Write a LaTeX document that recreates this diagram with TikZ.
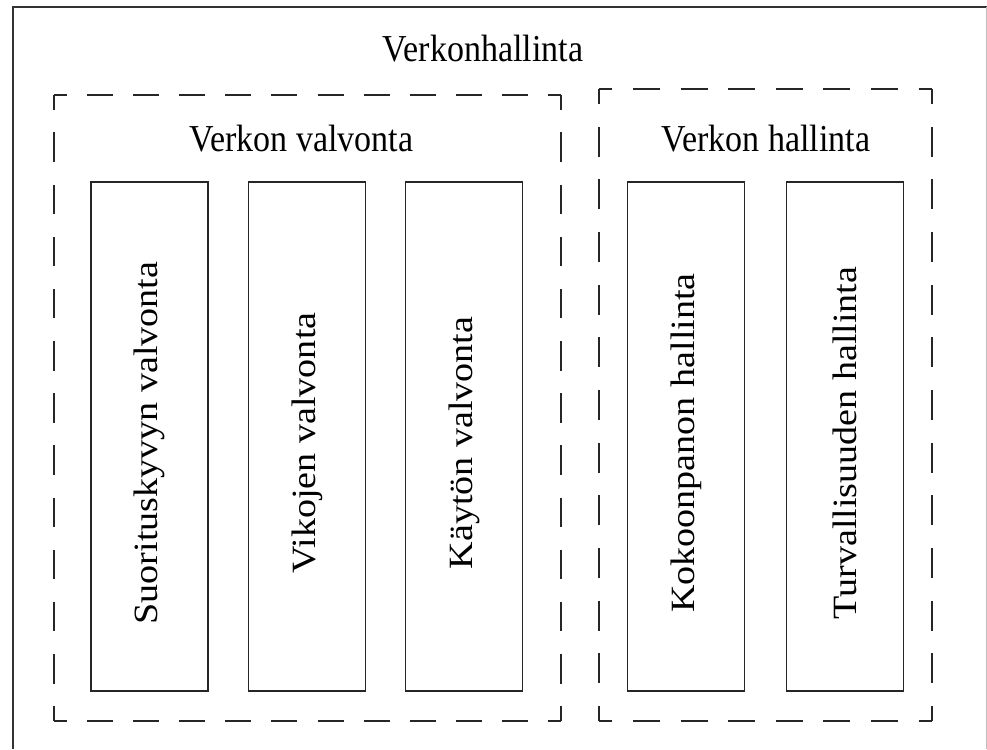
\documentclass[tikz,border=0pt]{standalone}
\usepackage{fontspec}
\setmainfont{Liberation Serif}
\usepackage{graphicx}
\begin{document}
\begin{tikzpicture}[x=1pt,y=-1pt,
  linecol/.style={line width=1.7pt, draw=black!85},
  colbox/.style={linecol, minimum width=117pt, minimum height=509pt, inner sep=0pt},
  dashline/.style={line width=1.5pt, draw=black!85},
  htext/.style={font=\fontsize{34}{40}\selectfont, anchor=base, inner sep=0pt},
  vtext/.style={font=\fontsize{34}{40}\selectfont, rotate=90, inner sep=0pt}
]
\useasboundingbox (0,0) rectangle (987,749);
\fill[white] (0,0) rectangle (987,749);
% outer frame (cropped at right and bottom)
\draw[line width=1.8pt, draw=black!80] (13,749) -- (13,7) -- (987,7);
\draw[line width=0.8pt, draw=black!25] (986,7) -- (986,749);
% left dashed group
\coordinate (l1) at (54,95); \coordinate (l2) at (561,95);
\coordinate (l3) at (561,721); \coordinate (l4) at (54,721);
\draw[dashline, dash pattern=on 26.05pt off 20.04pt, dash phase=13.03pt] (l1) -- (l2);
\draw[dashline, dash pattern=on 26.05pt off 20.04pt, dash phase=13.03pt] (l4) -- (l3);
\draw[dashline, dash pattern=on 29.49pt off 22.68pt, dash phase=14.74pt] (l1) -- (l4);
\draw[dashline, dash pattern=on 29.49pt off 22.68pt, dash phase=14.74pt] (l2) -- (l3);
% right dashed group
\coordinate (r1) at (599,89); \coordinate (r2) at (932,89);
\coordinate (r3) at (932,721); \coordinate (r4) at (599,721);
\draw[dashline, dash pattern=on 26.89pt off 20.68pt, dash phase=13.44pt] (r1) -- (r2);
\draw[dashline, dash pattern=on 26.89pt off 20.68pt, dash phase=13.44pt] (r4) -- (r3);
\draw[dashline, dash pattern=on 29.77pt off 22.9pt, dash phase=14.88pt] (r1) -- (r4);
\draw[dashline, dash pattern=on 29.77pt off 22.9pt, dash phase=14.88pt] (r2) -- (r3);
% titles
\node[htext] (title) at (483,62) {\scalebox{1}[1.12]{Verkonhallinta}};
\node[htext] (tval) at (301.5,151) {\scalebox{1}[1.12]{Verkon valvonta}};
\node[htext] (thal) at (766,151) {\scalebox{1}[1.12]{Verkon hallinta}};
% column boxes
\node[colbox] (b1) at (149.5,436.5) {};
\node[colbox] (b2) at (307,436.5) {};
\node[colbox] (b3) at (464,436.5) {};
\node[colbox] (b4) at (686,436.5) {};
\node[colbox] (b5) at (845,436.5) {};
% vertical labels
\node[vtext] (v1) at (149.5,443) {\scalebox{1.12}[1]{Suorituskyvyn valvonta}};
\node[vtext] (v2) at (307,443) {\scalebox{1.12}[1]{Vikojen valvonta}};
\node[vtext] (v3) at (464,443) {\scalebox{1.12}[1]{Käytön valvonta}};
\node[vtext] (v4) at (686,443) {\scalebox{1.12}[1]{Kokoonpanon hallinta}};
\node[vtext] (v5) at (845,443) {\scalebox{1.12}[1]{Turvallisuuden hallinta}};
\end{tikzpicture}
\end{document}
